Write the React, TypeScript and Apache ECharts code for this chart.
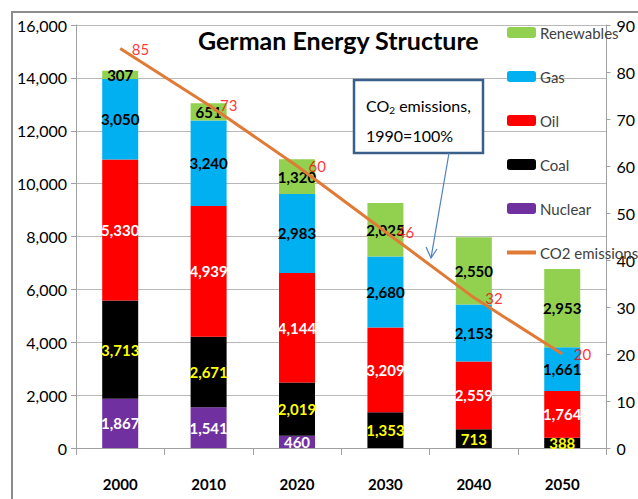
import React, { useEffect, useRef } from "react";
import * as echarts from "echarts";

const years = ["2000", "2010", "2020", "2030", "2040", "2050"];
const nuclear = [1867, 1541, 460, 0, 0, 0];
const coal = [3713, 2671, 2019, 1353, 713, 388];
const oil = [5330, 4939, 4144, 3209, 2559, 1764];
const gas = [3050, 3240, 2983, 2680, 2153, 1661];
const renewables = [307, 651, 1320, 2025, 2550, 2953];
const co2 = [85, 73, 60, 46, 32, 20];

const FONT = "Lato, 'Liberation Sans', sans-serif";

const fmt = (v: number) => (v ? v.toLocaleString("en-US") : "");

export default function App() {
  const ref = useRef<HTMLDivElement>(null);
  useEffect(() => {
    const chart = echarts.init(ref.current!, null, { renderer: "svg" });
    const bar = (name: string, data: number[], color: string, labelColor: string) => ({
      name,
      type: "bar",
      stack: "energy",
      data,
      barWidth: 36,
      itemStyle: { color },
      label: {
        show: true,
        position: "inside",
        color: labelColor,
        fontFamily: FONT,
        fontWeight: "bold",
        fontSize: 15,
        formatter: (p: any) => fmt(p.value),
      },
    });
    chart.setOption({
      animation: false,
      textStyle: { fontFamily: FONT },
      grid: { left: 76, right: 26, top: 25, bottom: 51, containLabel: false },
      title: {
        text: "German Energy Structure",
        left: 193,
        top: 22,
        textStyle: { fontFamily: FONT, fontWeight: "bold", fontSize: 25, color: "#000" },
      },
      legend: {
        orient: "vertical",
        left: 502,
        top: 20,
        itemWidth: 29,
        itemHeight: 11,
        itemGap: 29,
        textStyle: { fontFamily: FONT, fontSize: 15, color: "#404040", padding: [0, 0, 0, -1] },
        data: [
          "Renewables",
          "Gas",
          "Oil",
          "Coal",
          "Nuclear",
          { name: "CO2 emissions (%)", icon: "path://M0,0H29V4H0Z" },
        ],
      },
      xAxis: {
        type: "category",
        data: years,
        axisLine: { lineStyle: { color: "#a0a0a0" } },
        axisTick: { show: true, length: 7, lineStyle: { color: "#a0a0a0" } },
        axisLabel: { margin: 28, color: "#000", fontFamily: FONT, fontWeight: "bold", fontSize: 15 },
      },
      yAxis: [
        {
          type: "value",
          min: 0,
          max: 16000,
          interval: 2000,
          axisLine: { show: true, lineStyle: { color: "#a0a0a0" } },
          axisTick: { show: true, length: 5, lineStyle: { color: "#a0a0a0" } },
          splitLine: { lineStyle: { color: "#b8b8b8" } },
          axisLabel: {
            margin: 9,
            color: "#000",
            fontFamily: FONT,
            fontSize: 16,
            formatter: (v: number) => v.toLocaleString("en-US"),
          },
        },
        {
          type: "value",
          min: 0,
          max: 90,
          interval: 10,
          position: "right",
          axisLine: { show: true, lineStyle: { color: "#a0a0a0" } },
          axisTick: { show: true, length: 4, lineStyle: { color: "#a0a0a0" } },
          splitLine: { show: false },
          axisLabel: { margin: 10, color: "#000", fontFamily: FONT, fontSize: 16 },
        },
      ],
      series: [
        bar("Nuclear", nuclear, "#7030A0", "#ffffff"),
        bar("Coal", coal, "#000000", "#FFFF00"),
        bar("Oil", oil, "#FF0000", "#ffffff"),
        bar("Gas", gas, "#00B0F0", "#000000"),
        bar("Renewables", renewables, "#92D050", "#000000"),
        {
          name: "CO2 emissions (%)",
          type: "line",
          yAxisIndex: 1,
          data: co2,
          symbol: "none",
          z: 5,
          color: "#E07A35",
          itemStyle: { color: "#E07A35" },
          lineStyle: { color: "#E07A35", width: 3 },
        },
        {
          name: "co2-labels",
          type: "scatter",
          yAxisIndex: 1,
          data: co2,
          symbolSize: 1,
          z: 6,
          itemStyle: { color: "rgba(0,0,0,0)" },
          label: {
            show: true,
            position: "right",
            distance: 11,
            color: "#FF0000",
            fontFamily: FONT,
            fontSize: 15,
          },
        },
      ],
      graphic: [
        {
          type: "rect",
          shape: { x: 12, y: 12, width: 640, height: 500 },
          style: { fill: "none", stroke: "#8c8c8c", lineWidth: 2 },
          silent: true,
          z: 0,
        },
        {
          type: "rect",
          shape: { x: 354, y: 80, width: 129, height: 73 },
          style: { fill: "#ffffff", stroke: "#3A5F8A", lineWidth: 2.5 },
          z: 20,
        },
        {
          type: "text",
          x: 366,
          y: 90,
          z: 21,
          style: {
            text: "{a|CO}{s|2}{a| emissions,}\n{a|1990=100%}",
            fontFamily: FONT,
            lineHeight: 30,
            rich: {
              a: { fontFamily: FONT, fontSize: 16, color: "#000", lineHeight: 30 },
              s: { fontFamily: FONT, fontSize: 10, color: "#000", padding: [10, 0, 0, 0], lineHeight: 30 },
            },
          },
        },
        {
          type: "line",
          shape: { x1: 449, y1: 153, x2: 431, y2: 258 },
          style: { stroke: "#4F81BD", lineWidth: 1.2 },
          z: 20,
        },
        {
          type: "polyline",
          shape: { points: [[426, 247], [431, 258], [437, 249]] },
          style: { stroke: "#4F81BD", lineWidth: 1.2, fill: "none" },
          z: 20,
        },
      ],
    });
    return () => chart.dispose();
  }, []);
  return (
    <div
      ref={ref}
      style={{ position: "fixed", left: 0, top: 0, width: 638, height: 499, background: "#fff" }}
    />
  );
}
